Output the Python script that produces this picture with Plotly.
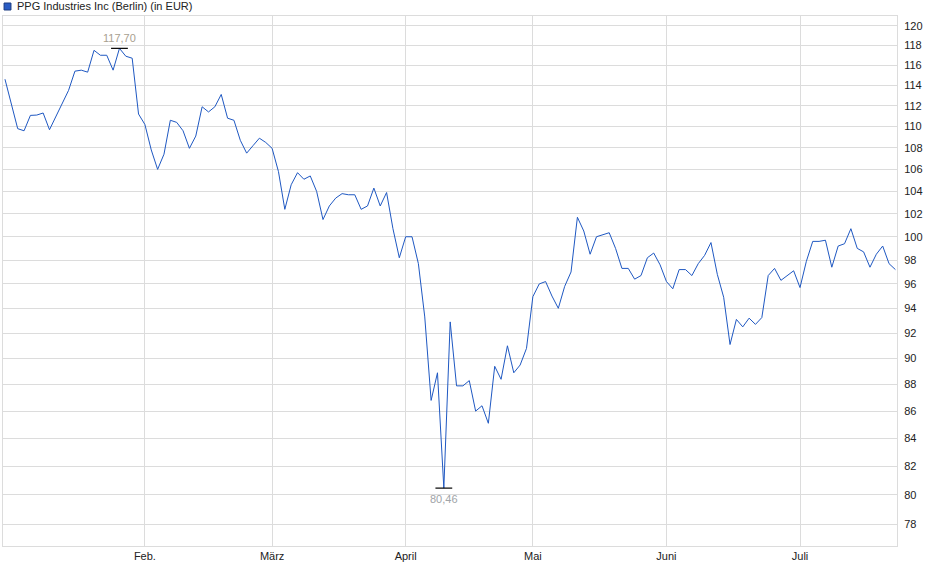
import numpy as np
import pandas as pd
import plotly.graph_objects as go

# Berlin trading days, 2 Jan - 22 Jul 2025 (no Good Friday, Easter Monday, 1 May)
holidays = ["2025-04-18", "2025-04-21", "2025-05-01"]
days = pd.bdate_range("2025-01-02", "2025-07-22")
days = days[~days.isin(pd.to_datetime(holidays))]
dates = [d.strftime("%Y-%m-%d") for d in days]

prices = [
    114.6, 112.1, 109.8, 109.6, 111.07, 111.1, 111.3, 109.7, 111.0, 112.3,
    113.5, 115.4, 115.5, 115.3, 117.5, 117.0, 117.0, 115.5, 117.70, 116.9,
    116.7, 111.2, 110.2, 107.8, 106.0, 107.4, 110.6, 110.4, 109.6, 107.95,
    109.1, 111.9, 111.4, 111.9, 113.1, 110.8, 110.6, 108.7, 107.5, 108.2,
    108.9, 108.5, 107.95, 105.8, 102.4, 104.6, 105.7, 105.1, 105.4, 104.0,
    101.5, 102.7, 103.4, 103.8, 103.7, 103.7, 102.4, 102.7, 104.3, 102.7,
    103.9, 100.7, 98.2, 100.0, 100.0, 97.7, 93.3, 86.8, 88.9, 80.46,
    92.9, 87.9, 87.9, 88.3, 86.0, 86.4, 85.1, 89.4, 88.4, 91.0,
    88.9, 89.5, 90.8, 94.95, 96.0, 96.2, 95.0, 94.0, 95.8, 97.0,
    101.7, 100.5, 98.5, 100.0, 100.2, 100.35, 99.0, 97.3, 97.3, 96.4,
    96.7, 98.2, 98.6, 97.6, 96.2, 95.6, 97.2, 97.2, 96.7, 97.7,
    98.4, 99.5, 96.8, 94.9, 91.1, 93.1, 92.5, 93.2, 92.7, 93.25,
    96.7, 97.3, 96.3, 96.7, 97.1, 95.7, 97.9, 99.6, 99.6, 99.7,
    97.4, 99.2, 99.4, 100.7, 99.0, 98.7, 97.4, 98.5, 99.2, 97.7,
    97.2,
]

month_labels = ["Feb.", "März", "April", "Mai", "Juni", "Juli"]
y_ticks = list(range(78, 121, 2))

blue = "#1f58c2"
grid = "#dcdcdc"
font = "Liberation Sans, Arial, sans-serif"

# first trading day of each month from February on
month_starts = []
for d in dates:
    if d[5:7] != "01" and (not month_starts or month_starts[-1][5:7] != d[5:7]):
        month_starts.append(d)

i_max = int(np.argmax(prices))
i_min = int(np.argmin(prices))

def de(v):
    return f"{v:.2f}".replace(".", ",")

fig = go.Figure()
fig.add_trace(go.Scatter(
    x=dates, y=prices, mode="lines",
    line=dict(color=blue, width=1),
    hovertemplate="%{x}: %{y:.2f} EUR<extra></extra>",
))
fig.add_trace(go.Scatter(
    x=[dates[i_max], dates[i_min]], y=[prices[i_max], prices[i_min]],
    mode="markers",
    marker=dict(symbol="line-ew", size=12, line=dict(color="#000000", width=1.2)),
    hoverinfo="skip",
))

fig.add_annotation(x=dates[i_max], y=np.log10(prices[i_max]), text=de(prices[i_max]),
                   showarrow=False, yshift=10, font=dict(family=font, size=11, color="#a8a090"))
fig.add_annotation(x=dates[i_min], y=np.log10(prices[i_min]), text=de(prices[i_min]),
                   showarrow=False, yshift=-11, font=dict(family=font, size=11, color="#a0a4a8"))

# legend: small square + label above the plot
fig.add_shape(type="rect", xref="paper", yref="paper",
              x0=0.0012, x1=0.0089, y0=1.0113, y1=1.0245,
              fillcolor="#2a5cc4", line=dict(color="#1a3a80", width=1))
fig.add_annotation(xref="paper", yref="paper", x=0.0135, y=1.0189,
                   xanchor="left", yanchor="middle", showarrow=False,
                   text="PPG Industries Inc (Berlin) (in EUR)",
                   font=dict(family=font, size=11, color="#222222"))

fig.update_layout(
    width=940, height=579,
    margin=dict(l=3, r=43, t=16, b=33),
    paper_bgcolor="white", plot_bgcolor="white",
    showlegend=False,
    font=dict(family=font, size=11, color="#222222"),
    xaxis=dict(
        type="category", range=[-0.31, 140.25],
        tickvals=month_starts, ticktext=month_labels,
        showgrid=True, gridcolor=grid, gridwidth=1,
        showline=True, linecolor=grid, mirror=True,
        ticks="", zeroline=False, ticklabelstandoff=0,
        tickfont=dict(family=font, size=11, color="#222222"),
    ),
    yaxis=dict(
        type="log", side="right",
        range=[np.log10(76.53), np.log10(121.04)],
        tickvals=y_ticks, ticktext=[str(v) for v in y_ticks],
        showgrid=True, gridcolor=grid, gridwidth=1,
        showline=True, linecolor=grid, mirror=True,
        ticks="", zeroline=False, ticklabelstandoff=4,
        tickfont=dict(family=font, size=11, color="#222222"),
    ),
)

# the page's default body margin would shift the chart by 8px
fig.write_html("out.html", config={"displayModeBar": False},
               post_script="document.body.style.margin='0';")
